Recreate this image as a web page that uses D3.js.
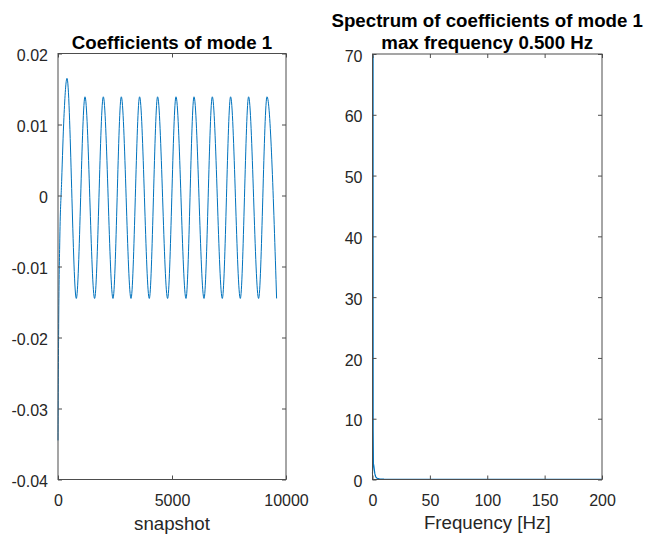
<!DOCTYPE html>
<html>
<head>
<meta charset="utf-8">
<script src="https://cdn.jsdelivr.net/npm/d3@7"></script>
<style>
  body { margin: 0; background: #fff; }
  svg { display: block; font-family: "Liberation Sans", Arial, sans-serif; }
  .tick text { fill: #262626; font-size: 16px; }
  .domain { display: none; }
  .tick line { stroke: #4d4d4d; }
</style>
</head>
<body>
<div id="container"></div>
<script>
// data
// left: coefficients of mode 1 (start, then peaks and troughs)
var coefSnapshot = [0, 30, 80, 160, 260, 395, 803, 1184, 1605, 1987, 2412, 2776, 3202, 3579, 4004, 4368, 4807, 5175, 5614, 5965, 6404, 6768, 7206, 7570, 7996, 8360, 8798, 9167, 9588];
var coefValue = [-0.0345, -0.018, -0.006, 0.002, 0.011, 0.0165, -0.0145, 0.0139, -0.0145, 0.0139, -0.0145, 0.0139, -0.0145, 0.0139, -0.0145, 0.0139, -0.0145, 0.0139, -0.0145, 0.0139, -0.0145, 0.0139, -0.0145, 0.0139, -0.0145, 0.0139, -0.0145, 0.0139, -0.0145];

// right: spectrum of coefficients of mode 1
var specFreq = [0, 0.25, 0.42, 0.46, 0.5, 0.54, 0.58, 0.8, 1.2, 1.6, 2.0, 2.5, 3.0, 4.0, 6, 10, 50, 100, 150, 200];
var specAmp = [1.0, 2.2, 8, 30, 69.8, 30, 8, 2.6, 2.2, 1.6, 1.0, 0.6, 0.4, 0.2, 0.1, 0.05, 0.02, 0.02, 0.02, 0.02];

// tick labels
var coefXTicks = [0, 5000, 10000];
var coefYTicks = [-0.04, -0.03, -0.02, -0.01, 0, 0.01, 0.02];
var specXTicks = [0, 50, 100, 150, 200];
var specYTicks = [0, 10, 20, 30, 40, 50, 60, 70];

var WIDTH = 648;
var HEIGHT = 539;
var LINE_COLOR = "#0072BD";
var TEXT_COLOR = "#262626";

var svg = d3.select("#container")
  .append("svg")
  .attr("width", WIDTH)
  .attr("height", HEIGHT);

// draw one matlab style axes box
function drawAxes(box, xScale, yScale, xTicks, yTicks, yFmt) {
  var g = svg.append("g");

  g.append("g")
    .attr("transform", "translate(0," + box.bottom + ")")
    .call(d3.axisBottom(xScale).tickValues(xTicks).tickSizeInner(-4).tickSizeOuter(0).tickPadding(15)
      .tickFormat(function (d) { return String(d); }));

  g.append("g")
    .attr("transform", "translate(0," + box.top + ")")
    .call(d3.axisTop(xScale).tickValues(xTicks).tickSizeInner(-4).tickSizeOuter(0).tickFormat(""));

  g.append("g")
    .attr("transform", "translate(" + box.left + ",0)")
    .call(d3.axisLeft(yScale).tickValues(yTicks).tickSizeInner(-4).tickSizeOuter(0).tickPadding(10)
      .tickFormat(yFmt))
    .selectAll("text").attr("dy", "0.45em");

  g.append("g")
    .attr("transform", "translate(" + box.right + ",0)")
    .call(d3.axisRight(yScale).tickValues(yTicks).tickSizeInner(-4).tickSizeOuter(0).tickFormat(""));

  // box outline
  g.append("rect")
    .attr("x", box.left)
    .attr("y", box.top)
    .attr("width", box.right - box.left)
    .attr("height", box.bottom - box.top)
    .attr("fill", "none")
    .attr("stroke", "#4d4d4d")
    .attr("stroke-width", 1);

  return g;
}

// ---------- left: coefficients ----------
var boxL = { left: 58, right: 286, top: 53.5, bottom: 479.5 };
var xL = d3.scaleLinear().domain([0, 10000]).range([boxL.left, boxL.right]);
var yL = d3.scaleLinear().domain([-0.04, 0.02]).range([boxL.bottom, boxL.top]);

var coefData = coefSnapshot.map(function (s, i) { return { x: s, y: coefValue[i] }; });

svg.append("path")
  .datum(coefData)
  .attr("fill", "none")
  .attr("stroke", LINE_COLOR)
  .attr("stroke-width", 1)
  .attr("d", d3.line()
    .x(function (d) { return xL(d.x); })
    .y(function (d) { return yL(d.y); })
    .curve(d3.curveMonotoneX));

drawAxes(boxL, xL, yL, coefXTicks, coefYTicks, function (d) {
  return d === 0 ? "0" : d.toFixed(2);
});

svg.append("text")
  .attr("x", (boxL.left + boxL.right) / 2)
  .attr("y", 48.5)
  .attr("text-anchor", "middle")
  .style("font-size", "18.7px")
  .style("font-weight", "bold")
  .attr("fill", "#000")
  .text("Coefficients of mode 1");

svg.append("text")
  .attr("x", (boxL.left + boxL.right) / 2)
  .attr("y", 530)
  .attr("text-anchor", "middle")
  .style("font-size", "18.7px")
  .attr("fill", TEXT_COLOR)
  .text("snapshot");

// ---------- right: spectrum ----------
var boxR = { left: 372.5, right: 602, top: 54, bottom: 479.5 };
var xR = d3.scaleLinear().domain([0, 200]).range([boxR.left, boxR.right]);
var yR = d3.scaleLinear().domain([0, 70]).range([boxR.bottom, boxR.top]);

var specData = specFreq.map(function (f, i) { return { x: f, y: specAmp[i] }; });

svg.append("path")
  .datum(specData)
  .attr("fill", "none")
  .attr("stroke", LINE_COLOR)
  .attr("stroke-width", 1.2)
  .attr("d", d3.line()
    .x(function (d) { return xR(d.x); })
    .y(function (d) { return yR(d.y); }));

drawAxes(boxR, xR, yR, specXTicks, specYTicks, function (d) { return String(d); });

svg.append("text")
  .attr("x", (boxR.left + boxR.right) / 2)
  .attr("y", 26.5)
  .attr("text-anchor", "middle")
  .style("font-size", "18.7px")
  .style("font-weight", "bold")
  .attr("fill", "#000")
  .text("Spectrum of coefficients of mode 1");

svg.append("text")
  .attr("x", (boxR.left + boxR.right) / 2)
  .attr("y", 48.5)
  .attr("text-anchor", "middle")
  .style("font-size", "18.7px")
  .style("font-weight", "bold")
  .attr("fill", "#000")
  .text("max frequency 0.500 Hz");

svg.append("text")
  .attr("x", (boxR.left + boxR.right) / 2)
  .attr("y", 529)
  .attr("text-anchor", "middle")
  .style("font-size", "18.7px")
  .attr("fill", TEXT_COLOR)
  .text("Frequency [Hz]");
</script>
</body>
</html>
